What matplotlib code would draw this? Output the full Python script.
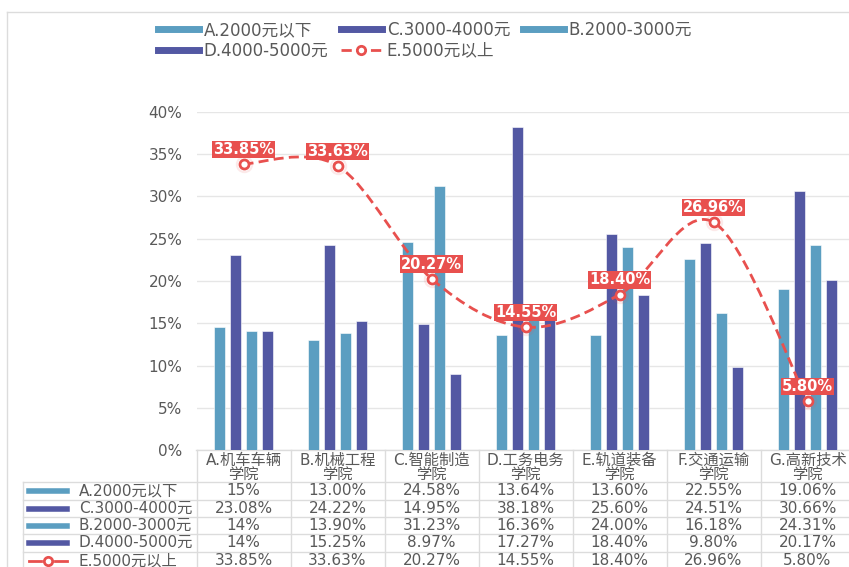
import matplotlib
matplotlib.use("Agg")
import matplotlib.pyplot as plt
import numpy as np
from matplotlib.path import Path
from matplotlib.patches import PathPatch
from matplotlib.lines import Line2D
from matplotlib.transforms import blended_transform_factory

plt.rcParams['font.family'] = ['DejaVu Sans', 'Noto Sans CJK SC']

colleges = ['A.机车车辆学院', 'B.机械工程学院', 'C.智能制造学院', 'D.工务电务学院',
            'E.轨道装备学院', 'F.交通运输学院', 'G.高新技术学院']
series_names = ['A.2000元以下', 'C.3000-4000元', 'B.2000-3000元', 'D.4000-5000元', 'E.5000元以上']

a_vals = [14.6, 13.00, 24.58, 13.64, 13.60, 22.55, 19.06]
c_vals = [23.08, 24.22, 14.95, 38.18, 25.60, 24.51, 30.66]
b_vals = [14.1, 13.90, 31.23, 16.36, 24.00, 16.18, 24.31]
d_vals = [14.1, 15.25, 8.97, 17.27, 18.40, 9.80, 20.17]
e_vals = [33.85, 33.63, 20.27, 14.55, 18.40, 26.96, 5.80]
# first column of the table is shown with fewer decimals for some rows
first_col_dec = [0, 2, 0, 0, 2]

LIGHT = '#5B9EC1'
DARK = '#5358A3'
RED = '#E8504E'
GRID = '#DCDCDC'
TXT = '#595959'
FS = 11

fig = plt.figure(figsize=(8.49, 5.67), dpi=100)

# overlay in pixel coordinates for frame + table
ov = fig.add_axes([0, 0, 1, 1])
ov.set_xlim(0, 849)
ov.set_ylim(567, 0)
ov.axis('off')

ax = fig.add_axes([196.5 / 849, (567 - 450) / 567, 658 / 849, 338 / 567])
ax.patch.set_alpha(0)

x = np.arange(len(colleges))
step, w = 0.17, 0.122
bar_series = [(a_vals, LIGHT), (c_vals, DARK), (b_vals, LIGHT), (d_vals, DARK)]
for k, (vals, col) in enumerate(bar_series):
    ax.bar(x + (k - 1.5) * step, vals, w, color=col, edgecolor='white', linewidth=0.4, zorder=2)


def smooth_path(xs, ys):
    pts = np.column_stack([xs, ys]).astype(float)
    n = len(pts)
    verts = [pts[0]]
    codes = [Path.MOVETO]
    for i in range(n - 1):
        p0 = pts[max(i - 1, 0)]
        p1 = pts[i]
        p2 = pts[i + 1]
        p3 = pts[min(i + 2, n - 1)]
        verts += [p1 + (p2 - p0) / 6, p2 - (p3 - p1) / 6, p2]
        codes += [Path.CURVE4] * 3
    return Path(verts, codes)


ax.add_patch(PathPatch(smooth_path(x, e_vals), fill=False, ec=RED, lw=2,
                       ls=(0, (3.6, 1.9)), zorder=4, clip_on=False))
ax.plot(x, e_vals, 'o', ms=11, mfc='none', mec=RED, mew=1.5, alpha=0.12, zorder=5, clip_on=False)
ax.plot(x, e_vals, 'o', ms=6.5, mfc='white', mec=RED, mew=2, zorder=6, clip_on=False)
for i, v in enumerate(e_vals):
    ax.annotate(f"{v:.2f}%", (i, v), xytext=(0, 10.5), textcoords='offset points',
                ha='center', va='center', color='white', fontweight='bold', fontsize=10.5,
                bbox=dict(boxstyle='square,pad=0.08', fc=RED, ec='none'), zorder=7)

ax.set_xlim(-0.5, 6.5)
ax.set_ylim(0, 40)
ax.set_yticks(range(0, 41, 5))
ax.set_yticklabels([f"{t}%" for t in range(0, 41, 5)])
ax.set_xticks([])
ax.tick_params(axis='y', length=0, pad=10, labelsize=FS, labelcolor=TXT)
for s in ax.spines.values():
    s.set_visible(False)
ax.yaxis.grid(True, color='#E6E6E6', lw=1, zorder=0)
ax.set_axisbelow(True)

# outer frame
ov.add_line(Line2D([7, 7], [12, 567], color=GRID, lw=1))
ov.add_line(Line2D([7, 849], [12, 12], color=GRID, lw=1))

# data table
tr = blended_transform_factory(ax.transData, ov.transData)
row_lines = [482, 500, 517, 534, 552]
ov.add_line(Line2D([196, 849], [450, 450], color=GRID, lw=1))
for y in row_lines:
    ov.add_line(Line2D([23, 849], [y, y], color=GRID, lw=1))
ov.add_line(Line2D([23, 23], [482, 567], color=GRID, lw=1))
for i in range(len(colleges) + 1):
    ov.add_line(Line2D([i - 0.5, i - 0.5], [450, 567], color=GRID, lw=1, transform=tr))

for i, name in enumerate(colleges):
    ov.text(i, 460, name[:-2], transform=tr, ha='center', va='center', fontsize=FS, color=TXT)
    ov.text(i, 474, name[-2:], transform=tr, ha='center', va='center', fontsize=FS, color=TXT)

all_vals = [a_vals, c_vals, b_vals, d_vals, e_vals]
row_cols = [LIGHT, DARK, LIGHT, DARK, RED]
for r, vals in enumerate(all_vals):
    yc = row_lines[r] + 8.5
    for j, v in enumerate(vals):
        dec = first_col_dec[r] if j == 0 else 2
        ov.text(j, yc, f"{v:.{dec}f}%", transform=tr, ha='center', va='center',
                fontsize=FS, color=TXT)
    if r < 4:
        ov.add_line(Line2D([29, 67], [yc, yc], color=row_cols[r], lw=4))
    else:
        ov.add_line(Line2D([29, 41], [yc, yc], color=RED, lw=2))
        ov.add_line(Line2D([55, 67], [yc, yc], color=RED, lw=2))
        ov.plot([48], [yc], 'o', ms=6, mfc='white', mec=RED, mew=2)
    ov.text(79, yc, series_names[r], ha='left', va='center', fontsize=FS, color=TXT)

# legend on top
handles = [
    Line2D([], [], color=LIGHT, lw=5),
    Line2D([], [], color=DARK, lw=5),
    Line2D([], [], color=LIGHT, lw=5),
    Line2D([], [], color=DARK, lw=5),
    Line2D([], [], color=RED, lw=2, ls='--', marker='o', ms=6, mfc='white', mec=RED, mew=2),
]
order = [0, 3, 1, 4, 2]
fig.legend([handles[k] for k in order], [series_names[k] for k in order],
           ncol=3, loc='upper left', bbox_to_anchor=(158 / 849, 1 - 21 / 567),
           frameon=False, fontsize=12, labelcolor=TXT, handlelength=2.45,
           handletextpad=0.3, columnspacing=0.75, labelspacing=0.15,
           borderpad=0, borderaxespad=0)

fig.savefig('out.png', dpi=100)
